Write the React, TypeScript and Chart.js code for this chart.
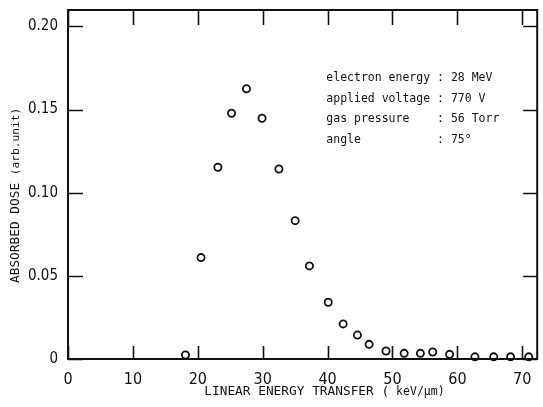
import React, { useEffect, useRef } from "react";
import { Chart, registerables } from "chart.js";

Chart.register(...registerables);

// ---- data ----
const letValues = [18.1, 20.5, 23.1, 25.2, 27.5, 29.9, 32.5, 35.0, 37.2, 40.1, 42.4, 44.6, 46.4, 49.0, 51.8, 54.3, 56.2, 58.8, 62.7, 65.6, 68.2, 71.0];
const doseValues = [0.0024, 0.061, 0.1153, 0.1478, 0.1625, 0.1448, 0.1143, 0.0832, 0.056, 0.0341, 0.0211, 0.0144, 0.0088, 0.0048, 0.0034, 0.0034, 0.0042, 0.0028, 0.0013, 0.0013, 0.0013, 0.0013];
const xTicks = [0, 10, 20, 30, 40, 50, 60, 70];
const yTicks = [0, 0.05, 0.1, 0.15, 0.2];
const infoLines = [
  "electron energy : 28 MeV",
  "applied voltage : 770 V",
  "gas pressure    : 56 Torr",
  "angle           : 75°",
];
const infoAnchor = { x: 39.8, y: 0.1673 };
const xTitleMain = "LINEAR ENERGY TRANSFER (";
const xTitleUnit = " keV/μm)";
const yTitleMain = "ABSORBED DOSE ";
const yTitleUnit = "(arb.unit)";

const INK = "#111";
const TICK_FONT = "'DejaVu Sans Condensed', 'Liberation Sans Narrow', 'DejaVu Sans', sans-serif";
const MONO = "'DejaVu Sans Mono', 'Liberation Mono', monospace";

const framePlugin = {
  id: "frameTicks",
  beforeDatasetsDraw(chart: any) {
    const { ctx, chartArea: a, scales } = chart;
    const xs = scales.x;
    const ys = scales.y;
    ctx.save();
    ctx.strokeStyle = INK;
    ctx.lineWidth = 1.6;
    ctx.beginPath();
    for (const v of xTicks) {
      const px = Math.round(xs.getPixelForValue(v)) + 0.5;
      ctx.moveTo(px, a.bottom);
      ctx.lineTo(px, a.bottom - 13);
      ctx.moveTo(px, a.top);
      ctx.lineTo(px, a.top + 15);
    }
    for (const v of yTicks) {
      const py = Math.round(ys.getPixelForValue(v)) + 0.5;
      ctx.moveTo(a.left, py);
      ctx.lineTo(a.left + 15, py);
      ctx.moveTo(a.right, py);
      ctx.lineTo(a.right - 14, py);
    }
    ctx.stroke();
    ctx.lineWidth = 2;
    ctx.strokeRect(a.left, a.top, a.right - a.left, a.bottom - a.top);

    ctx.fillStyle = INK;
    ctx.textAlign = "left";
    ctx.textBaseline = "alphabetic";

    // annotation text
    ctx.font = `11.5px ${MONO}`;
    const ax = xs.getPixelForValue(infoAnchor.x);
    const ay = ys.getPixelForValue(infoAnchor.y);
    infoLines.forEach((t, i) => {
      ctx.fillText(t, ax, ay + i * 20.7);
    });

    // x axis title (unit part in a smaller size)
    const xtStart = xs.getPixelForValue(21);
    const xtBase = a.bottom + 36;
    ctx.font = `12.8px ${MONO}`;
    ctx.fillText(xTitleMain, xtStart, xtBase);
    const w1 = ctx.measureText(xTitleMain).width;
    ctx.font = `11.5px ${MONO}`;
    ctx.fillText(xTitleUnit, xtStart + w1, xtBase);

    // y axis title, rotated
    ctx.save();
    ctx.translate(18.5, ys.getPixelForValue(0.0457));
    ctx.rotate(-Math.PI / 2);
    ctx.font = `12.8px ${MONO}`;
    ctx.fillText(yTitleMain, 0, 0);
    const w2 = ctx.measureText(yTitleMain).width;
    ctx.font = `11.2px ${MONO}`;
    ctx.fillText(yTitleUnit, w2, 0);
    ctx.restore();

    ctx.restore();
  },
};

export default function App() {
  const ref = useRef<HTMLCanvasElement | null>(null);
  useEffect(() => {
    if (!ref.current) return;
    const chart = new Chart(ref.current, {
      type: "scatter",
      data: {
        datasets: [
          {
            data: letValues.map((x, i) => ({ x, y: doseValues[i] })),
            pointStyle: "circle",
            pointRadius: 3.6,
            pointBorderWidth: 1.8,
            pointBorderColor: INK,
            pointBackgroundColor: "rgba(0,0,0,0)",
            showLine: false,
            clip: false,
          } as any,
        ],
      },
      options: {
        animation: false,
        responsive: false,
        maintainAspectRatio: false,
        layout: { padding: { top: 10, right: 3, left: 0, bottom: 0 } },
        plugins: { legend: { display: false }, tooltip: { enabled: false } },
        scales: {
          x: {
            type: "linear",
            min: 0,
            max: 72.3,
            grid: { display: false, drawTicks: false },
            border: { display: false },
            afterBuildTicks: (s: any) => {
              s.ticks = xTicks.map((v) => ({ value: v }));
            },
            afterFit: (s: any) => {
              s.height = 48;
              s.paddingLeft = 0;
              s.paddingRight = 0;
            },
            ticks: {
              color: INK,
              padding: 11,
              maxRotation: 0,
              autoSkip: false,
              font: { family: TICK_FONT, size: 16 },
              callback: (v: any) => String(v),
            },
            title: { display: false },
          },
          y: {
            type: "linear",
            min: 0,
            max: 0.2099,
            grid: { display: false, drawTicks: false },
            border: { display: false },
            afterBuildTicks: (s: any) => {
              s.ticks = yTicks.map((v) => ({ value: v }));
            },
            afterFit: (s: any) => {
              s.width = 68;
              s.paddingTop = 0;
              s.paddingBottom = 0;
            },
            ticks: {
              color: INK,
              padding: 10,
              autoSkip: false,
              font: { family: TICK_FONT, size: 15 },
              callback: (v: any) => (Number(v) === 0 ? "0" : Number(v).toFixed(2)),
            },
            title: { display: false },
          },
        },
      },
      plugins: [framePlugin],
    } as any);
    return () => chart.destroy();
  }, []);
  return (
    <div style={{ position: "absolute", left: 0, top: 0, width: 543, height: 407, background: "#fff" }}>
      <canvas ref={ref} width={543} height={407} />
    </div>
  );
}
